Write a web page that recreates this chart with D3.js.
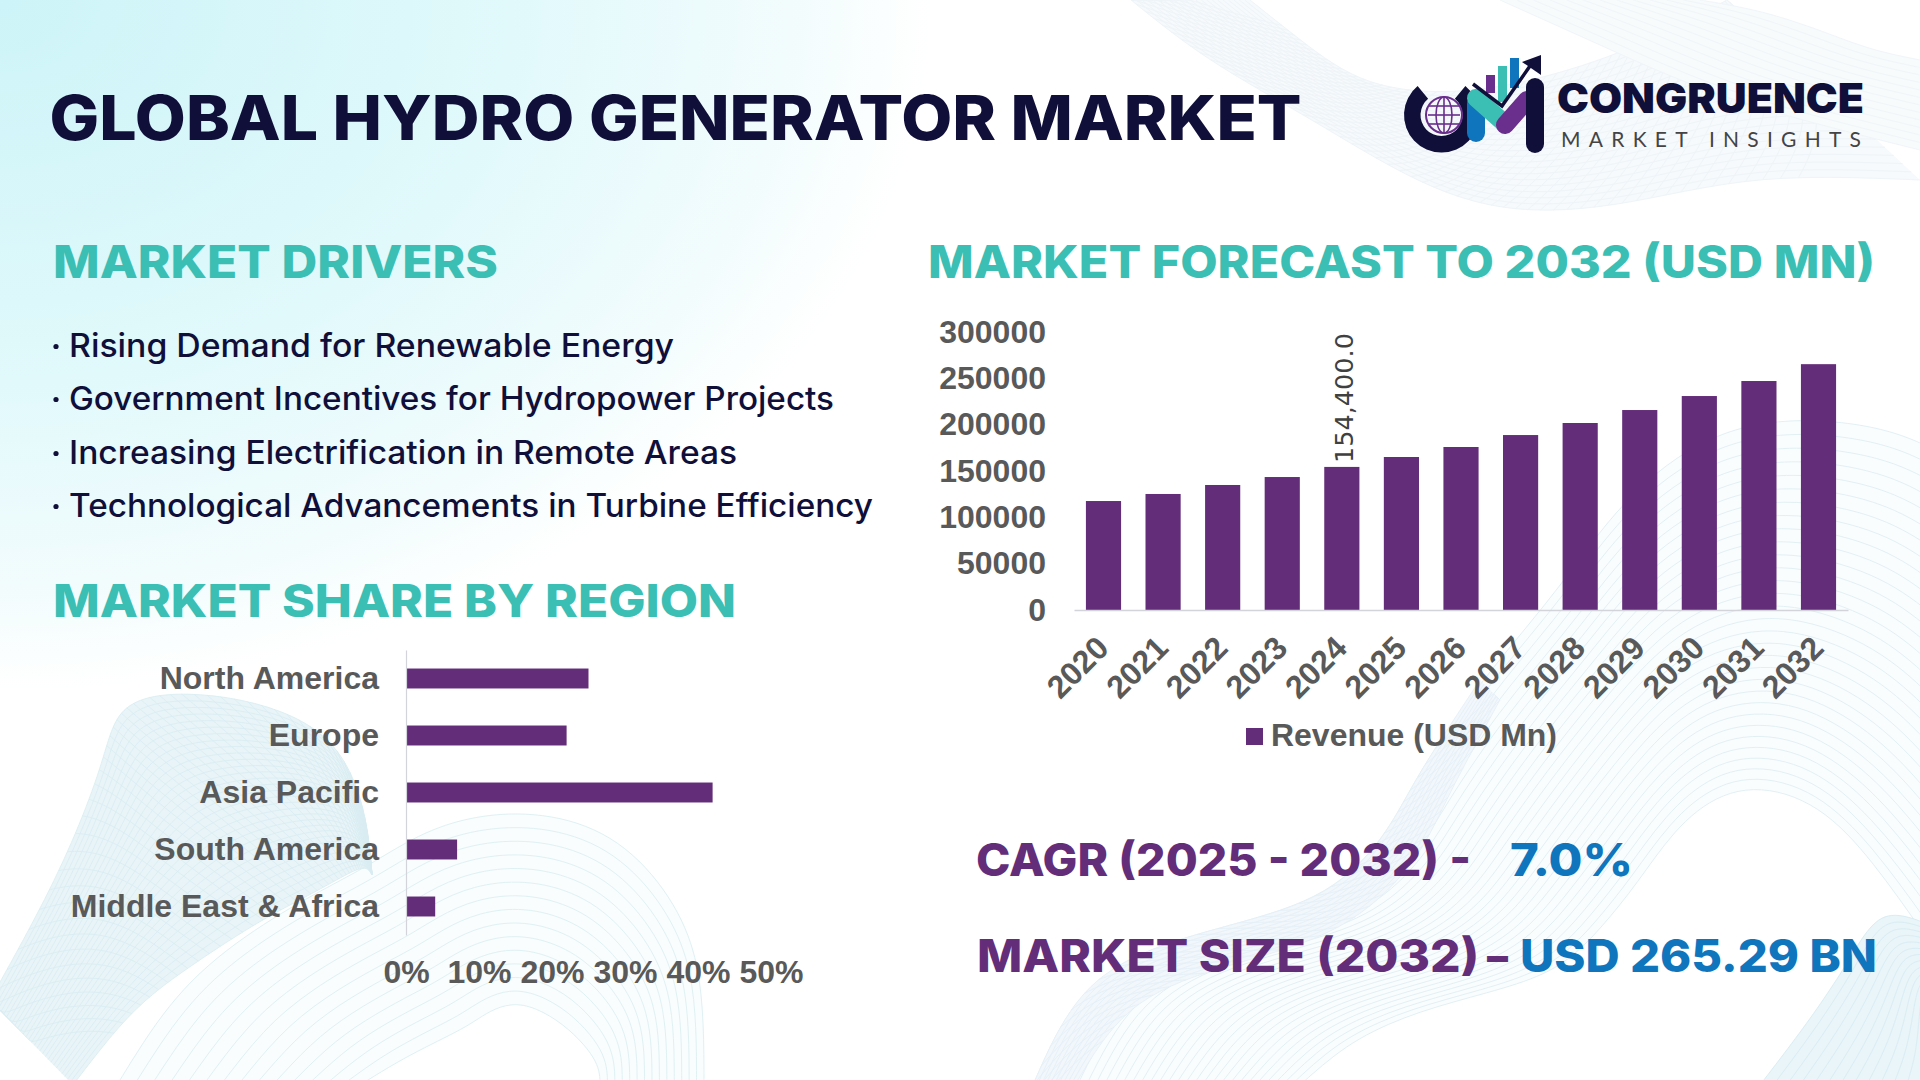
<!DOCTYPE html>
<html>
<head>
<meta charset="utf-8">
<title>Global Hydro Generator Market</title>
<script src="https://cdn.jsdelivr.net/npm/d3@7.9.0/dist/d3.min.js"></script>
<style>
  html, body { margin: 0; padding: 0; background: #fff; overflow: hidden; }
  svg { display: block; }
  .chart-axis text { font-family: "Liberation Sans", Arial, sans-serif; font-weight: 700; font-size: 32px; fill: #595959; }
</style>
</head>
<body>
<svg id="page" width="1920" height="1080"></svg>
<script>
// Chart data
const years = [2020, 2021, 2022, 2023, 2024, 2025, 2026, 2027, 2028, 2029, 2030, 2031, 2032];
const revenue = [117600, 125200, 134900, 143500, 154400, 165100, 175900, 188800, 201800, 215800, 230900, 247100, 265290];
const revenueTicks = [0, 50000, 100000, 150000, 200000, 250000, 300000];
const regions = ['North America', 'Europe', 'Asia Pacific', 'South America', 'Middle East & Africa'];
const regionShare = [25, 22, 42, 7, 4];
const shareTicks = [0, 10, 20, 30, 40, 50];
const drivers = [
  'Rising Demand for Renewable Energy',
  'Government Incentives for Hydropower Projects',
  'Increasing Electrification in Remote Areas',
  'Technological Advancements in Turbine Efficiency'
];

const PURPLE = '#642d79';
const TEAL = '#3bbfb4';
const NAVY = '#100f3a';
const BLUE = '#0f75bc';
const HEAD_FONT = 'Inter, "Noto Sans", sans-serif';

const svg = d3.select('#page');
const defs = svg.append('defs');

// Cyan wash in the top left corner
const wash = defs.append('radialGradient').attr('id', 'wash')
  .attr('gradientUnits', 'userSpaceOnUse').attr('cx', 0).attr('cy', 0).attr('r', 1)
  .attr('gradientTransform', 'scale(930,690)');
[[0, '#cdf4f8'], [0.55, '#e1f9fb'], [0.85, '#f2fcfd'], [1, '#ffffff']].forEach(([o, c]) => {
  wash.append('stop').attr('offset', o).attr('stop-color', c);
});
svg.append('rect').attr('width', 1920).attr('height', 1080).attr('fill', '#fff');
svg.append('rect').attr('width', 1920).attr('height', 1080).attr('fill', 'url(#wash)');

// Background ribbons: thin lines blended between two edges
const bg = svg.append('g').attr('fill', 'none');
const lineGen = d3.line().curve(d3.curveBasis);

function ribbon(edgeA, edgeB, opts) {
  const ax = d3.interpolateBasis(edgeA.map(p => p[0])), ay = d3.interpolateBasis(edgeA.map(p => p[1]));
  const bx = d3.interpolateBasis(edgeB.map(p => p[0])), by = d3.interpolateBasis(edgeB.map(p => p[1]));
  const at = (t, u) => [ax(t) + (bx(t) - ax(t)) * u, ay(t) + (by(t) - ay(t)) * u];
  if (opts.fill) {
    const outline = d3.range(0, 1.001, 0.02).map(t => at(t, 0)).concat(d3.range(1, -0.001, -0.02).map(t => at(t, 1)));
    bg.append('path').attr('d', d3.line()(outline) + 'Z').attr('fill', opts.fill).attr('stroke', 'none');
  }
  d3.range(opts.lines + 1).forEach(i => {
    const u = i / opts.lines;
    bg.append('path')
      .attr('d', lineGen(d3.range(0, 1.001, 0.02).map(t => at(t, u))))
      .attr('stroke', opts.stroke).attr('stroke-width', opts.width || 1);
  });
  // Crossing family gives the mesh look
  d3.range(opts.cross || 0).forEach(i => {
    const t0 = i / opts.cross;
    const pts = d3.range(0, 1.001, 0.05).map(u => at(Math.max(0, Math.min(1, t0 + (u - 0.5) * 0.18)), u));
    bg.append('path').attr('d', lineGen(pts)).attr('stroke', opts.stroke).attr('stroke-width', opts.width || 1);
  });
}

// top right
ribbon(
  [[1131, 0], [1205, 60], [1309, 117], [1414, 183], [1508, 215], [1623, 207], [1754, 173], [1920, 180]],
  [[1250, 0], [1300, 40], [1360, 85], [1440, 95], [1520, 85], [1620, 55], [1700, 15], [1727, 0]],
  { lines: 22, cross: 60, stroke: '#eef4f8', fill: '#f7fafc' });
ribbon(
  [[1500, 0], [1600, 45], [1700, 90], [1800, 120], [1920, 150]],
  [[1700, 0], [1760, 10], [1820, 30], [1870, 50], [1920, 60]],
  { lines: 12, stroke: '#f0f5f9', fill: '#f8fbfc' });
// bottom left arches, then the ribbon over them
ribbon(
  [[120, 1080], [184, 975], [300, 900], [367, 868], [430, 825], [520, 807], [620, 830], [690, 920], [704, 1000], [704, 1085]],
  [[360, 1085], [400, 1060], [440, 1040], [470, 1025], [490, 1010], [520, 1000], [560, 1020], [590, 1050], [600, 1070], [600, 1085]],
  { lines: 14, stroke: '#dff1f4', fill: '#f9fdfd' });
ribbon(
  [[-10, 1000], [61, 873], [105, 760], [115, 705], [170, 690], [260, 700], [337, 735], [367, 810], [372, 875]],
  [[73, 1085], [130, 1010], [184, 970], [260, 920], [310, 895], [345, 875], [360, 868], [368, 868], [372, 875]],
  { lines: 30, cross: 50, stroke: '#d8ecf1', fill: '#e8f4f7', width: 0.8 });
// bottom right arches with a denser band on the outer edge
ribbon(
  [[1033, 1085], [1082, 971], [1205, 930], [1327, 902], [1389, 833], [1413, 781], [1480, 680], [1560, 590], [1624, 493], [1734, 413], [1880, 423], [1935, 450]],
  [[1300, 1085], [1350, 1040], [1420, 1010], [1500, 990], [1560, 970], [1600, 930], [1640, 880], [1680, 820], [1740, 780], [1820, 800], [1880, 870], [1935, 950]],
  { lines: 30, stroke: '#e2f0f5', fill: '#fafdfe' });
ribbon(
  [[1033, 1085], [1082, 971], [1205, 930], [1327, 902], [1389, 833], [1413, 781], [1480, 680]],
  [[1075, 1085], [1125, 1000], [1225, 965], [1345, 935], [1420, 860], [1445, 800], [1500, 700]],
  { lines: 10, cross: 34, stroke: '#e3eff6', fill: '#f1f7fb', width: 0.8 });
ribbon(
  [[1760, 1085], [1810, 1020], [1850, 960], [1880, 905], [1930, 925]],
  [[1920, 1085], [1925, 1060], [1925, 1030], [1925, 1000], [1930, 985]],
  { lines: 12, stroke: '#d9edf3', fill: '#e9f5f8' });

// Text fitted to a fixed width
function fitText(parent, str, x, y, width, size, weight, fill, family) {
  return parent.append('text').text(str)
    .attr('x', x).attr('y', y)
    .attr('textLength', width).attr('lengthAdjust', 'spacingAndGlyphs')
    .attr('font-size', size).attr('font-weight', weight)
    .attr('font-family', family || HEAD_FONT).attr('fill', fill);
}

fitText(svg, 'GLOBAL HYDRO GENERATOR MARKET', 49.5, 140, 1252, 62, 800, NAVY);
fitText(svg, 'MARKET DRIVERS', 53, 278, 445, 45, 800, TEAL);
fitText(svg, 'MARKET FORECAST TO 2032 (USD MN)', 928, 278, 947, 45, 800, TEAL);
fitText(svg, 'MARKET SHARE BY REGION', 53, 617, 683, 45, 800, TEAL);

// Driver bullets
const driverY = [356.5, 409.5, 463.5, 516.5];
const driverEnd = [674, 834, 737, 873];
drivers.forEach((d, i) => {
  svg.append('circle').attr('cx', 56).attr('cy', driverY[i] - 10).attr('r', 2.6).attr('fill', NAVY);
  fitText(svg, d, 69, driverY[i], driverEnd[i] - 69, 32, 500, NAVY);
});

// Revenue columns
const revX = d3.scaleBand().domain(years).range([1074, 1848]).paddingInner(0.41).paddingOuter(0.2);
const revY = d3.scaleLinear().domain([0, 300000]).range([610, 332]);

svg.append('g').selectAll('rect').data(years).join('rect')
  .attr('x', d => revX(d))
  .attr('width', revX.bandwidth())
  .attr('y', (d, i) => revY(revenue[i]))
  .attr('height', (d, i) => revY(0) - revY(revenue[i]))
  .attr('fill', PURPLE);

const revLeft = svg.append('g').attr('class', 'chart-axis').attr('transform', 'translate(1074,0)')
  .call(d3.axisLeft(revY).tickValues(revenueTicks).tickFormat(d => d).tickSize(0).tickPadding(28));
revLeft.select('.domain').remove();

const revBottom = svg.append('g').attr('class', 'chart-axis').attr('transform', 'translate(0,610)')
  .call(d3.axisBottom(revX).tickSize(0));
revBottom.select('.domain').attr('stroke', '#d3d3dc').attr('stroke-width', 1.5);
revBottom.selectAll('text')
  .attr('text-anchor', 'end').attr('dy', 0).attr('y', 0)
  .attr('transform', 'translate(7,40) rotate(-45)');

// Single data label on 2024
const labelIdx = years.indexOf(2024);
svg.append('text').text(d3.format(',.1f')(revenue[labelIdx]))
  .attr('transform', `translate(${revX(2024) + revX.bandwidth() / 2 + 11},${revY(revenue[labelIdx]) - 4}) rotate(-90)`)
  .attr('font-family', '"DejaVu Sans", sans-serif').attr('font-size', 25.5).attr('fill', '#404040');

// Legend
svg.append('rect').attr('x', 1246).attr('y', 728).attr('width', 17).attr('height', 17).attr('fill', PURPLE);
fitText(svg, 'Revenue (USD Mn)', 1271, 746, 286, 32, 700, '#595959', '"Liberation Sans", Arial, sans-serif');

// Region share bars
const shareX = d3.scaleLinear().domain([0, 50]).range([406, 771]);
const shareY = d3.scaleBand().domain(regions).range([650, 935]).paddingInner(0.65).paddingOuter(0.325);

svg.append('g').selectAll('rect').data(regions).join('rect')
  .attr('x', shareX(0))
  .attr('y', d => shareY(d))
  .attr('width', (d, i) => shareX(regionShare[i]) - shareX(0))
  .attr('height', shareY.bandwidth())
  .attr('fill', PURPLE);

const shareLeft = svg.append('g').attr('class', 'chart-axis').attr('transform', 'translate(406,0)')
  .call(d3.axisLeft(shareY).tickSize(0).tickPadding(27));
shareLeft.select('.domain').attr('stroke', '#d3d3dc').attr('stroke-width', 1.2);

const shareBottom = svg.append('g').attr('class', 'chart-axis').attr('transform', 'translate(0,935)')
  .call(d3.axisBottom(shareX).tickValues(shareTicks).tickFormat(d => d + '%').tickSize(0).tickPadding(25));
shareBottom.select('.domain').remove();

// Key figures
fitText(svg, 'CAGR (2025 - 2032) -', 976, 876, 495, 45, 800, PURPLE);
fitText(svg, '7.0%', 1510, 876, 123, 45, 800, BLUE);
fitText(svg, 'MARKET SIZE (2032)', 977, 972, 502, 45, 800, PURPLE);
fitText(svg, '–', 1487, 972, 21, 45, 800, PURPLE);
fitText(svg, 'USD 265.29 BN', 1520, 972, 357, 45, 800, BLUE);

// Logo
const logo = svg.append('g');
logo.append('path')
  .attr('transform', 'translate(1441.5,115)')
  .attr('d', d3.arc().innerRadius(21).outerRadius(37.5).startAngle(Math.PI * 0.22).endAngle(Math.PI * 1.78)())
  .attr('fill', NAVY);
const globe = logo.append('g').attr('transform', 'translate(1444,115)').attr('fill', 'none').attr('stroke', '#6a2e8c').attr('stroke-width', 1.6);
globe.append('circle').attr('r', 18).attr('stroke-width', 2);
globe.append('ellipse').attr('rx', 8).attr('ry', 18);
[-9, 0, 9].forEach(dy => globe.append('line').attr('x1', -16).attr('x2', 16).attr('y1', dy).attr('y2', dy));
globe.append('line').attr('y1', -18).attr('y2', 18);
logo.append('rect').attr('x', 1486).attr('y', 75).attr('width', 9).attr('height', 18).attr('fill', '#6a2e8c');
logo.append('rect').attr('x', 1498).attr('y', 66).attr('width', 9).attr('height', 36).attr('fill', TEAL);
logo.append('rect').attr('x', 1510).attr('y', 58).attr('width', 9).attr('height', 30).attr('fill', BLUE);
const stroke = (a, b, c) => logo.append('line')
  .attr('x1', a[0]).attr('y1', a[1]).attr('x2', b[0]).attr('y2', b[1])
  .attr('stroke', c).attr('stroke-width', 18).attr('stroke-linecap', 'round');
stroke([1476, 104], [1476, 133], BLUE);
stroke([1476, 98], [1503, 122], TEAL);
stroke([1505, 125], [1527, 100], '#6a2e8c');
stroke([1535, 87], [1535, 144], NAVY);
logo.append('path').attr('d', d3.line().curve(d3.curveLinear)([[1473, 84], [1502, 106], [1530, 66]]))
  .attr('fill', 'none').attr('stroke', NAVY).attr('stroke-width', 3.5);
logo.append('path').attr('d', 'M1522,62L1541,55L1541,75Z').attr('fill', NAVY);
fitText(logo, 'CONGRUENCE', 1557, 113, 307, 41, 900, NAVY);
fitText(logo, 'MARKET INSIGHTS', 1561, 147, 300, 21, 400, '#444', 'Lato, sans-serif')
  .attr('lengthAdjust', 'spacing');
</script>
</body>
</html>
